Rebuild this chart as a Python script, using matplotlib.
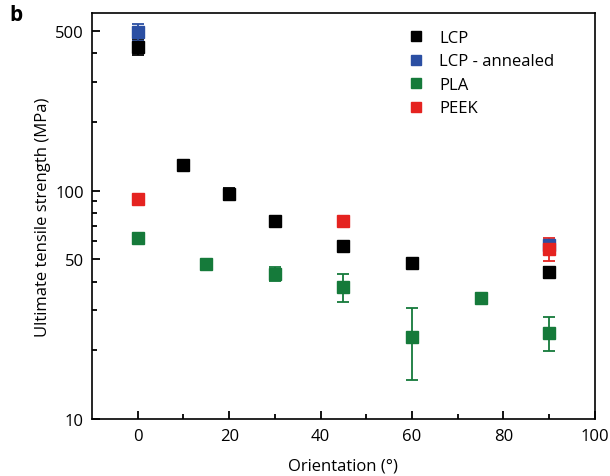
import numpy as np
import matplotlib.pyplot as plt
from matplotlib.ticker import FixedLocator, NullFormatter

plt.rcParams['font.family'] = ['Open Sans', 'DejaVu Sans']

# data
lcp_x = [0, 10, 20, 30, 45, 60, 90]
lcp_y = [427, 130, 97, 74, 57, 48.2, 44]
lcp_err = [36, 4, 6, 2, 2, 2, 2.5]

ann_x = [0, 90]
ann_y = [494, 58]
ann_err = [40, 2]

pla_x = [0, 15, 30, 45, 60, 75, 90]
pla_y = [62, 48, 43.2, 37.8, 22.8, 33.8, 23.9]
pla_err = [1.5, 1.5, 3, 5.3, 8, 1.5, 4.1]

peek_x = [0, 45, 90]
peek_y = [92, 73.8, 55.7]
peek_err = [2, 2, 6.5]

series = [
    ("LCP", lcp_x, lcp_y, lcp_err, "#000000"),
    ("LCP - annealed", ann_x, ann_y, ann_err, "#2b4fa3"),
    ("PLA", pla_x, pla_y, pla_err, "#157a3a"),
    ("PEEK", peek_x, peek_y, peek_err, "#e52320"),
]

fig = plt.figure(figsize=(6.1, 4.77), dpi=100)
ax = fig.add_axes([0.151, 0.119, 0.824, 0.852])

for name, x, y, e, c in series:
    ax.errorbar(x, y, yerr=e, fmt='s', color=c, ecolor=c, markersize=8.5,
                elinewidth=1.3, capsize=4, capthick=1.3, label=name)

ax.set_yscale('log')
ax.set_xlim(-10, 100)
ax.set_ylim(10, 600)
ax.set_xticks([0, 20, 40, 60, 80, 100])
ax.set_xticks([10, 30, 50, 70, 90], minor=True)
ax.yaxis.set_major_locator(FixedLocator([10, 50, 100, 500]))
ax.yaxis.set_minor_locator(FixedLocator([20, 30, 40, 60, 70, 80, 90, 200, 300, 400]))
ax.yaxis.set_minor_formatter(NullFormatter())
ax.set_yticklabels(['10', '50', '100', '500'])
ax.tick_params(which='major', direction='in', length=6, width=1.3, labelsize=12, pad=6)
ax.tick_params(which='minor', direction='in', length=3.5, width=1.3)
for s in ax.spines.values():
    s.set_linewidth(1.2)

ax.set_xlabel('Orientation (°)', fontsize=12, labelpad=10)
ax.set_ylabel('Ultimate tensile strength (MPa)', fontsize=12, labelpad=3)

handles, labels = ax.get_legend_handles_labels()
handles = [h[0] for h in handles]
ax.legend(handles, labels, loc='upper left', bbox_to_anchor=(0.598, 0.995), frameon=False,
          fontsize=12, handlelength=1.0, handletextpad=0.9, labelspacing=0.45,
          markerscale=0.9)

fig.text(0.015, 0.955, 'b', fontsize=15, fontweight='bold')

fig.savefig('out.png', dpi=100)
